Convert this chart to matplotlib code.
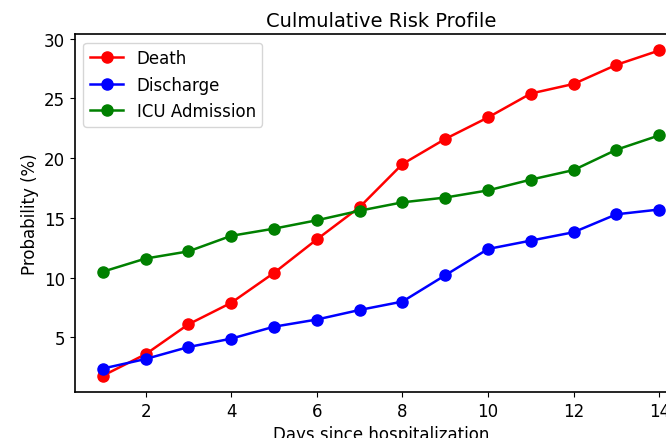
import numpy as np
import matplotlib
matplotlib.use("Agg")
import matplotlib.pyplot as plt

days = np.arange(1, 15)
death = [1.8, 3.6, 6.1, 7.9, 10.4, 13.2, 15.9, 19.5, 21.6, 23.4, 25.4, 26.2, 27.8, 29.0]
discharge = [2.4, 3.2, 4.2, 4.9, 5.9, 6.5, 7.3, 8.0, 10.2, 12.4, 13.1, 13.8, 15.3, 15.7]
icu = [10.5, 11.6, 12.2, 13.5, 14.1, 14.8, 15.6, 16.3, 16.7, 17.3, 18.2, 19.0, 20.7, 21.9]

fig = plt.figure(figsize=(6.66, 4.39), dpi=100)
# the reference is cropped on the right, so the axes run past the figure edge
ax = fig.add_axes([0.1126, 0.1048, 0.919, 0.815])

ax.plot(days, death, color='red', marker='o', markersize=8, lw=1.8, label='Death')
ax.plot(days, discharge, color='blue', marker='o', markersize=8, lw=1.8, label='Discharge')
ax.plot(days, icu, color='green', marker='o', markersize=8, lw=1.8, label='ICU Admission')

ax.set_xticks([2, 4, 6, 8, 10, 12, 14])
ax.set_yticks([5, 10, 15, 20, 25, 30])
ax.tick_params(labelsize=12)
for s in ax.spines.values():
    s.set_linewidth(1.2)
ax.set_xlabel('Days since hospitalization', fontsize=12)
ax.set_ylabel('Probability (%)', fontsize=12)
ax.set_title('Culmulative Risk Profile', fontsize=14)
ax.legend(loc='upper left', fontsize=12)

fig.savefig('out.png', dpi=100)
